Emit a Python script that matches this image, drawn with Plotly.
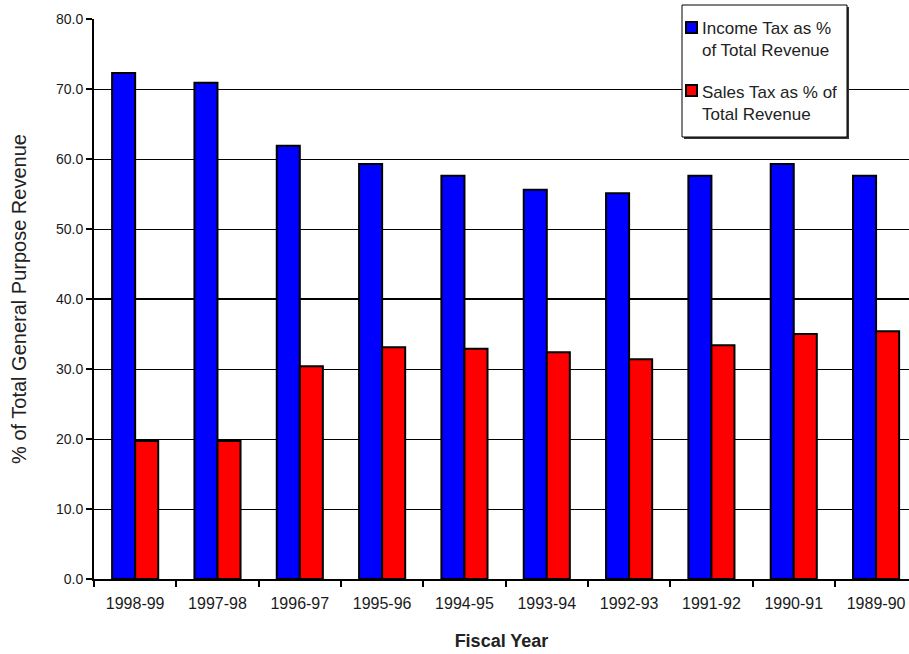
import plotly.graph_objects as go

years = ["1998-99", "1997-98", "1996-97", "1995-96", "1994-95",
         "1993-94", "1992-93", "1991-92", "1990-91", "1989-90"]
income_tax = [72.3, 70.9, 61.9, 59.3, 57.6, 55.6, 55.1, 57.6, 59.3, 57.6]
sales_tax = [19.7, 19.7, 30.4, 33.1, 32.9, 32.4, 31.4, 33.4, 35.0, 35.4]
y_ticks = [0, 10, 20, 30, 40, 50, 60, 70, 80]
series_names = ["Income Tax as %<br>of Total Revenue", "Sales Tax as % of<br>Total Revenue"]
series_colors = ["#0000FF", "#FF0000"]

fig = go.Figure()
for name, vals, col in zip(series_names, [income_tax, sales_tax], series_colors):
    fig.add_trace(go.Bar(
        x=years, y=vals, name=name.replace("<br>", " "),
        marker=dict(color=col, line=dict(color="black", width=2)),
        showlegend=False,
    ))

# bold 40 gridline
fig.add_shape(type="line", xref="paper", yref="y", x0=0, x1=1, y0=40, y1=40,
              line=dict(color="black", width=2), layer="below")

# plot area in pixels: x 94..909, y 19..579
L, R, T, B = 94, 909, 19, 579
def px(x):
    return (x - L) / (R - L)
def py(y):
    return (B - y) / (B - T)

# manual legend box (with slight shadow)
fig.add_shape(type="rect", xref="paper", yref="paper",
              x0=px(684), x1=px(849), y0=py(139), y1=py(7),
              line=dict(width=0), fillcolor="#333", layer="above")
fig.add_shape(type="rect", xref="paper", yref="paper",
              x0=px(682), x1=px(847), y0=py(137), y1=py(5),
              line=dict(color="black", width=1), fillcolor="white", layer="above")
legend_marker_y = [22, 85]
legend_text_y = [40, 103]
for name, col, my, ty in zip(series_names, series_colors, legend_marker_y, legend_text_y):
    fig.add_shape(type="rect", xref="paper", yref="paper",
                  x0=px(686), x1=px(697), y0=py(my + 11), y1=py(my),
                  line=dict(color="black", width=2), fillcolor=col, layer="above")
    fig.add_annotation(xref="paper", yref="paper", x=px(700), y=py(ty),
                       xanchor="left", yanchor="middle", align="left",
                       text=name, showarrow=False,
                       font=dict(size=17, color="#222"))

font_family = "Liberation Sans, Arial, sans-serif"
fig.update_layout(
    width=909, height=654,
    margin=dict(l=L, r=0, t=T, b=654 - B),
    paper_bgcolor="white", plot_bgcolor="white",
    barmode="group", bargap=0.44, bargroupgap=0,
    font=dict(family=font_family, size=14, color="#222"),
    showlegend=False,
    xaxis=dict(
        type="category", range=[-0.5, 9.4],
        showline=True, linecolor="black", linewidth=2,
        ticks="outside", tickson="boundaries", ticklen=6, tickwidth=2, tickcolor="black",
        showgrid=False, ticklabelstandoff=9,
        tickfont=dict(size=16, color="#1a1a1a"),
        title=dict(text="<b>Fiscal Year</b>", font=dict(size=18, color="#222"), standoff=23),
    ),
    yaxis=dict(
        range=[0, 80], tickvals=y_ticks,
        ticktext=[f"{v:.1f}" for v in y_ticks],
        showline=True, linecolor="black", linewidth=2,
        ticks="outside", ticklen=6, tickwidth=1.5, tickcolor="black",
        showgrid=True, gridcolor="black", gridwidth=1,
        tickfont=dict(size=14, color="#1a1a1a"),
        title=dict(text="% of Total General Purpose Revenue", font=dict(size=20, color="#222"), standoff=24),
        zeroline=False,
    ),
)

fig.write_html("out.html")
